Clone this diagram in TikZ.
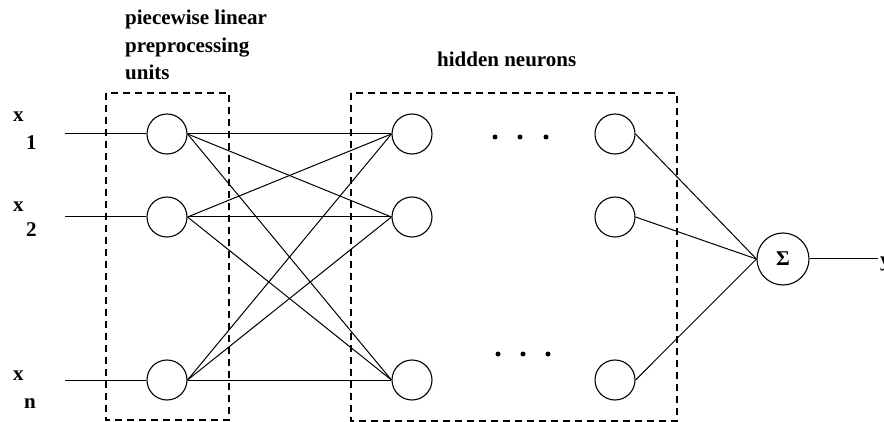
\documentclass[tikz,border=0pt]{standalone}
\usepackage{fontspec}
\setmainfont{Liberation Serif}
\begin{document}
\begin{tikzpicture}[x=1pt,y=-1pt,
  neuron/.style={draw,circle,minimum size=40pt,inner sep=0pt,line width=1.1pt},
  sumnode/.style={draw,circle,minimum size=52pt,inner sep=0pt,line width=1.1pt},
  conn/.style={line width=1pt},
  groupbox/.style={draw,line width=1.1pt,dash pattern=on 7pt off 5pt},
  lbl/.style={font=\fontsize{21}{27.5}\selectfont\bfseries,inner sep=0pt,anchor=base west,align=left},
  dotn/.style={circle,fill,inner sep=0pt,minimum size=5pt}]
\useasboundingbox (0,0) rectangle (884,422);
% boxes
\draw[groupbox] (106,93) rectangle (229,420);
\draw[groupbox] (351,93) rectangle (677,421);
% labels
\node[lbl] (t1) at (125,25) {piecewise linear};
\node[lbl] (t2) at (125,53) {preprocessing};
\node[lbl] (t3) at (125,80) {units};
\node[lbl] (th) at (437,67) {hidden neurons};
% input labels
\node[lbl] (x1) at (13,122) {x};
\node[lbl] (s1) at (26,150) {1};
\node[lbl] (x2) at (13,212) {x};
\node[lbl] (s2) at (26,237) {2};
\node[lbl] (xn) at (13,380) {x};
\node[lbl] (sn) at (24,408) {n};
% input coordinates
\coordinate (in1) at (65,134);
\coordinate (in2) at (65,217);
\coordinate (inn) at (65,380);
% preprocessing neurons
\node[neuron] (p1) at (167,134) {};
\node[neuron] (p2) at (167,217) {};
\node[neuron] (pn) at (167,380) {};
% hidden neurons
\node[neuron] (h11) at (412,134) {};
\node[neuron] (h12) at (412,217) {};
\node[neuron] (h1n) at (412,380) {};
\node[neuron] (h21) at (615,134) {};
\node[neuron] (h22) at (615,217) {};
\node[neuron] (h2n) at (615,380) {};
% dots
\node[dotn] (d1) at (495,137) {};
\node[dotn] (d2) at (520,137) {};
\node[dotn] (d3) at (546,137) {};
\node[dotn] (d4) at (498,354) {};
\node[dotn] (d5) at (523,354) {};
\node[dotn] (d6) at (548,354) {};
% sum node
\node[sumnode,font=\fontsize{21}{25}\selectfont\bfseries] (sum) at (783,259) {Σ};
\coordinate (out) at (878,259);
\node[lbl] (y) at (880,267) {y};
% connections
\draw[conn] (in1) -- (p1.west);
\draw[conn] (in2) -- (p2.west);
\draw[conn] (inn) -- (pn.west);
\foreach \p in {p1,p2,pn}{
  \foreach \h in {h11,h12,h1n}{
    \draw[conn] (\p.east) -- (\h.west);
  }
}
\foreach \h in {h21,h22,h2n}{
  \draw[conn] (\h.east) -- (sum.west);
}
\draw[conn] (sum.east) -- (out);
\end{tikzpicture}
\end{document}
